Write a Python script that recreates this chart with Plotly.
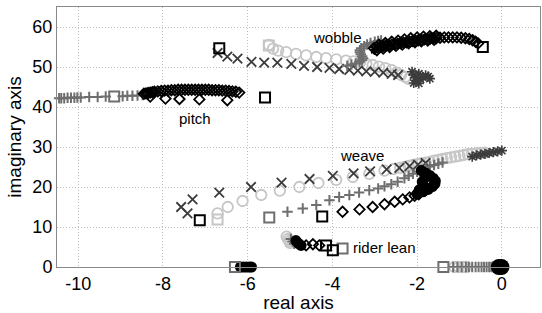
import plotly.graph_objects as go

# ---------------- data ----------------
# black open diamonds
diamond_x = [-8.45, -8.40, -8.35, -8.30, -8.25, -8.20, -8.12, -8.04, -7.96, -7.88, -7.80, -7.72,
             -7.64, -7.56, -7.48, -7.40, -7.32, -7.24, -7.16, -7.08, -7.00, -6.92, -6.84, -6.76,
             -6.68, -6.60, -6.52, -6.44, -6.36, -6.28, -6.20,
             -8.30, -7.94, -7.61, -7.14, -6.48,
             -3.02, -2.95, -2.88, -2.81, -2.74, -2.67, -2.60, -2.53, -2.46, -2.39, -2.32, -2.25,
             -2.18, -2.11, -2.04, -1.97, -1.90, -1.83, -1.76, -1.69, -1.62, -1.55,
             -2.95, -2.80, -2.65, -2.50, -2.35, -2.20, -2.05, -1.90, -1.75, -1.60,
             -2.90, -2.75, -2.60, -2.45, -2.30, -2.15, -2.00, -1.85, -1.70, -1.55,
             -1.46, -1.36, -1.26, -1.16, -1.06, -0.96, -0.86, -0.77, -0.69, -0.62, -0.56,
             -3.76, -3.36, -3.05, -2.77, -2.53, -2.34, -2.18, -2.06, -1.96,
             -4.62, -4.46, -4.31]
diamond_y = [43.3, 43.4, 43.5, 43.6, 43.7, 43.8, 43.9, 44.0, 44.1, 44.1, 44.2, 44.2,
             44.3, 44.3, 44.3, 44.3, 44.3, 44.3, 44.3, 44.3, 44.3, 44.3, 44.2, 44.2,
             44.2, 44.1, 44.1, 44.0, 43.9, 43.8, 43.6,
             42.6, 42.1, 42.0, 41.9, 41.7,
             54.7, 54.9, 55.0, 55.2, 55.3, 55.4, 55.6, 55.7, 55.8, 56.0, 56.1, 56.2,
             56.3, 56.5, 56.6, 56.7, 56.8, 56.9, 57.0, 57.1, 57.2, 57.2,
             54.2, 54.6, 55.0, 55.3, 55.6, 55.9, 56.2, 56.4, 56.6, 56.8,
             55.6, 56.0, 56.3, 56.6, 56.9, 57.2, 57.4, 57.6, 57.7, 57.8,
             57.3, 57.4, 57.4, 57.4, 57.4, 57.3, 57.2, 57.0, 56.7, 56.3, 55.9,
             13.8, 14.4, 15.0, 15.7, 16.3, 16.9, 17.4, 17.8, 18.2,
             5.4, 5.7, 5.4]

# dense black (filled-looking) clusters
blob_x = [-2.00, -1.86, -1.74, -1.64, -1.58, -1.57, -1.62, -1.70, -1.80, -1.90, -1.85, -1.88, -1.82, -1.95,
          -4.86, -4.80, -4.74,
          -6.17, -6.10, -6.03, -5.96, -5.91]
blob_y = [18.3, 18.8, 19.4, 20.1, 20.8, 21.5, 22.2, 22.9, 23.5, 24.1, 20.3, 21.3, 22.3, 19.3,
          6.6, 5.9, 5.4,
          0, 0, 0, 0, 0]
origin_blob_x = [-0.07, -0.01]
origin_blob_y = [0, 0]

# dark grey crosses
cross_x = [-6.71, -6.48, -6.24, -5.91, -5.61, -5.30, -4.97, -4.67, -4.36, -4.07, -3.84, -3.60,
           -3.40, -3.20, -3.00, -2.80, -2.60, -2.45,
           -7.57, -7.42, -7.30, -6.67, -5.92, -5.20, -4.54, -3.99, -3.50, -3.11, -2.72, -2.42,
           -2.18, -1.98, -1.80]
cross_y = [53.5, 52.6, 52.1, 51.3, 51.1, 51.1, 50.8, 50.3, 50.0, 49.8, 49.5, 49.3,
           49.1, 48.9, 48.8, 48.6, 48.3, 48.0,
           15.0, 13.4, 16.9, 18.6, 20.0, 21.1, 22.0, 22.8, 23.4, 23.9, 24.4, 24.8,
           25.2, 25.6, 26.0]

# light grey open circles
circle_x = [-5.50, -5.40, -5.28, -5.09, -4.86, -4.62, -4.38, -4.15, -3.91, -3.68, -3.50, -3.35,
            -3.20, -3.05, -2.90, -2.75, -2.60, -2.48, -2.38, -2.28, -2.20,
            -6.71, -6.47, -6.12, -5.68, -5.24, -4.78, -4.33, -3.91, -3.52, -3.13, -2.77, -2.55,
            -2.40, -2.30, -2.20, -2.10, -2.00, -1.90, -1.80, -1.70, -1.60, -1.50, -1.40, -1.30,
            -1.20, -1.10, -1.00, -0.90, -0.80, -0.70, -0.60, -0.50, -0.40,
            -5.08, -5.05, -5.02, -5.00,
            -1.12, -1.02, -0.92, -0.84]
circle_y = [55.5, 54.6, 54.1, 53.7, 53.3, 52.9, 52.5, 52.2, 51.9, 51.6, 51.4, 51.1,
            50.8, 50.5, 50.1, 49.7, 49.2, 48.6, 48.0, 47.5, 47.0,
            13.4, 15.0, 16.5, 18.0, 19.1, 20.0, 21.0, 21.8, 22.5, 23.3, 24.1, 24.5,
            24.8, 25.0, 25.3, 25.5, 25.7, 25.9, 26.1, 26.3, 26.6, 26.8, 27.0, 27.2,
            27.4, 27.6, 27.8, 28.0, 28.2, 28.3, 28.4, 28.5, 28.6,
            7.6, 7.0, 6.5, 6.0,
            0, 0, 0, 0]

# mid grey plus signs
plus_x = [-10.45, -10.40, -10.33, -10.25, -10.17, -10.09, -10.02, -9.94, -9.74, -9.54, -9.35,
          -8.95, -8.84, -8.72, -8.60, -8.48,
          -3.65, -3.55, -3.45, -3.36, -3.30, -3.28, -3.30, -3.33, -3.35, -3.35, -3.32, -3.25,
          -3.18, -3.10, -3.00, -2.92, -2.85,
          -5.06, -4.70, -4.38, -4.07, -3.84, -3.60, -3.37, -3.13, -2.92, -2.77, -2.61, -2.46,
          -2.30, -2.20, -2.10, -2.00, -1.90, -1.80, -1.70, -1.60, -1.50, -1.40,
          -4.98, -4.94, -4.90,
          -1.15, -1.05, -0.95, -0.85, -0.78, -0.70, -0.62, -0.55, -0.48, -0.42, -0.36, -0.30,
          -0.25, -0.20, -0.15]
plus_y = [42.2, 42.2, 42.2, 42.3, 42.3, 42.3, 42.4, 42.4, 42.5, 42.5, 42.6,
          42.7, 42.8, 42.8, 42.9, 43.0,
          50.3, 50.6, 50.9, 51.3, 51.7, 52.2, 52.7, 53.2, 53.7, 54.2, 54.7, 55.2,
          55.6, 56.0, 56.3, 56.5, 56.6,
          13.8, 14.6, 15.5, 16.7, 17.5, 18.0, 18.6, 19.2, 19.6, 20.2, 20.7, 21.3,
          22.2, 22.8, 23.3, 23.8, 24.3, 24.7, 25.1, 25.5, 25.8, 26.1,
          7.0, 6.4, 5.8,
          0, 0, 0, 0, 0, 0, 0, 0, 0, 0, 0, 0,
          0, 0, 0]

# dark grey asterisks
star_x = [-2.12, -2.08, -2.04, -2.00, -1.96, -2.08, -1.92, -1.86, -1.80, -1.74, -1.70, -1.96,
          -0.70, -0.60, -0.50, -0.40, -0.30, -0.20, -0.10, 0.00]
star_y = [48.8, 48.0, 47.3, 46.6, 45.9, 46.0, 46.9, 47.5, 47.9, 47.6, 47.1, 48.3,
          27.6, 27.9, 28.1, 28.3, 28.5, 28.7, 28.9, 29.1]
black_star_x = [-3.00, -2.85]
black_star_y = [54.3, 54.8]

# open squares (end points of the branches)
sq_black_x = [-6.67, -5.59, -0.45, -7.13, -4.24, -4.15, -3.99]
sq_black_y = [54.7, 42.4, 55.0, 11.7, 12.6, 5.4, 4.2]
sq_grey_x = [-9.15, -5.49, -3.76, -1.38, -6.30]
sq_grey_y = [42.6, 12.4, 4.6, 0, 0]
sq_light_x = [-6.71, -5.50]
sq_light_y = [11.9, 55.4]

# labels
label_text = ["wobble", "pitch", "weave", "rider lean"]
label_x = [-4.50, -7.67, -3.87, -3.56]
label_y = [57.3, 37.2, 27.8, 4.8]

x_tick_vals = [-10, -8, -6, -4, -2, 0]
x_tick_text = ["-10", "-8", "-6", "-4", "-2", "0"]
y_tick_vals = [0, 10, 20, 30, 40, 50, 60]
y_tick_text = ["0", "10", "20", "30", "40", "50", "60"]

# ---------------- figure ----------------
BLACK = "#000000"
DARK = "#3c3c3c"
MID = "#6e6e6e"
LIGHT = "#c6c6c6"

fig = go.Figure()

def add(xs, ys, symbol, color, size, width=1.6):
    marker = dict(symbol=symbol, size=size, color=color,
                  line=dict(color=color, width=width))
    fig.add_trace(go.Scatter(x=xs, y=ys, mode="markers", marker=marker,
                             showlegend=False, hoverinfo="skip", cliponaxis=False))

add(circle_x, circle_y, "circle-open", LIGHT, 10.5, 1.8)
add(cross_x, cross_y, "x-thin-open", DARK, 9.5, 1.8)
add(plus_x, plus_y, "cross-thin-open", MID, 7.5, 2)
add(star_x, star_y, "asterisk-open", DARK, 8.5, 1.6)
add(diamond_x, diamond_y, "diamond-open", BLACK, 8, 1.8)
add(black_star_x, black_star_y, "asterisk-open", BLACK, 8.5, 1.6)
add(blob_x, blob_y, "circle", BLACK, 11, 0)
add(origin_blob_x, origin_blob_y, "circle", BLACK, 16, 0)
add(sq_light_x, sq_light_y, "square-open", LIGHT, 10, 2)
add(sq_grey_x, sq_grey_y, "square-open", MID, 10, 2)
add(sq_black_x, sq_black_y, "square-open", BLACK, 10, 2)

for t, x, y in zip(label_text, label_x, label_y):
    fig.add_annotation(x=x, y=y, text=t, showarrow=False, xanchor="left", yanchor="middle",
                       font=dict(size=15, color="black", family="Liberation Sans, Arial"))

axis_common = dict(showgrid=True, gridcolor="#bdbdbd", griddash="1px,2px", gridwidth=1,
                   zeroline=False, showline=True, linecolor="#8a8a8a", linewidth=1,
                   mirror=True, ticks="", tickfont=dict(size=18, color="black"))

fig.update_xaxes(range=[-10.5, 0.9], tickvals=x_tick_vals, ticktext=x_tick_text,
                 title=dict(text="real axis", font=dict(size=19, color="black"), standoff=3),
                 **axis_common)
fig.update_yaxes(range=[0, 65], tickvals=y_tick_vals, ticktext=y_tick_text,
                 title=dict(text="imaginary axis", font=dict(size=19, color="black"), standoff=5),
                 **axis_common)

fig.update_layout(width=542, height=313,
                  margin=dict(l=57, r=2, t=7, b=46, autoexpand=False),
                  plot_bgcolor="white", paper_bgcolor="white",
                  font=dict(family="Liberation Sans, Arial", color="black"))

fig.write_html("out.html", config={"displayModeBar": False},
               post_script="document.body.style.margin='0px';"
                           "document.documentElement.style.overflow='hidden';")
